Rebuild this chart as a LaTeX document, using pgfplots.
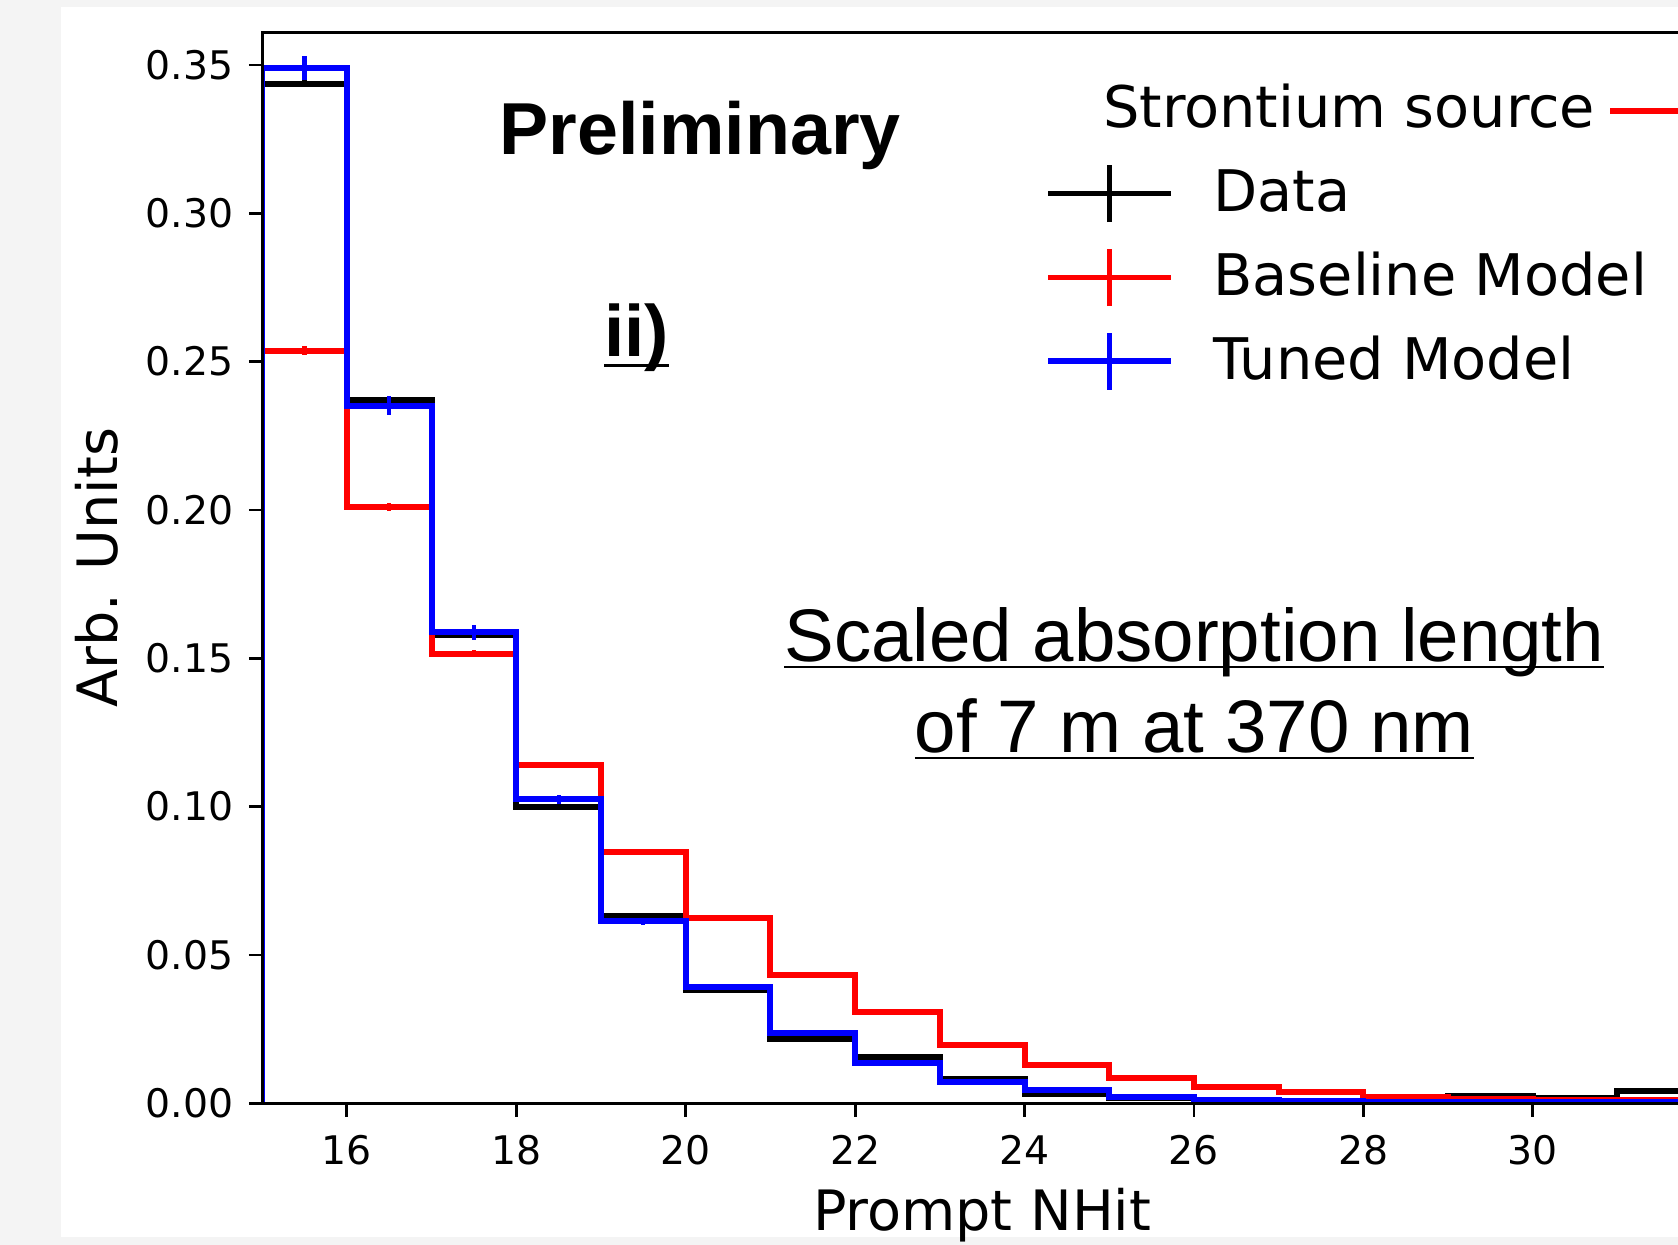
\documentclass[border=0pt]{standalone}
\usepackage{pgfplots}
\usepackage{pgfplotstable}
\pgfplotsset{compat=1.18}
\usepackage{fontspec}
\setmainfont{DejaVu Sans}
\newfontfamily\arialfont{Liberation Sans}
\definecolor{bggray}{RGB}{244,244,244}
\definecolor{pblue}{RGB}{0,0,255}
\definecolor{pred}{RGB}{255,0,0}
\newcommand\myul[3]{\setbox0=\hbox{#3}\rlap{\rule[#1]{\wd0}{#2}}\box0}

\pgfplotstableread{
x data base tuned
15 0      0      0
15 0.3437 0.2536 0.3490
16 0.2372 0.2009 0.2351
17 0.1580 0.1515 0.1587
18 0.0999 0.1140 0.1025
19 0.0631 0.0848 0.0613
20 0.0382 0.0624 0.0393
21 0.0216 0.0433 0.0238
22 0.0157 0.0307 0.0137
23 0.0083 0.0198 0.0072
24 0.0030 0.0128 0.0046
25 0.0017 0.0085 0.0021
26 0.0010 0.0055 0.0012
27 0.0006 0.0038 0.0008
28 0.0006 0.0021 0.0006
29 0.0025 0.0016 0.0005
30 0.0018 0.0012 0.0004
31 0.0041 0.0010 0.0004
32 0.0041 0.0010 0.0004
32 0      0      0
}\hist

\pgfplotstableread{
xc data edata base ebase tuned etuned
15.5 0.3437 0.0012 0.2536 0.0015 0.3490 0.0040
16.5 0.2372 0.0010 0.2009 0.0013 0.2351 0.0032
17.5 0.1580 0.0009 0.1515 0.0012 0.1587 0.0025
18.5 0.0999 0.0008 0.1140 0.0010 0.1025 0.0015
19.5 0.0631 0.0007 0.0848 0.0009 0.0613 0.0012
20.5 0.0382 0.0006 0.0624 0.0008 0.0393 0.0010
21.5 0.0216 0.0005 0.0433 0.0007 0.0238 0.0008
22.5 0.0157 0.0005 0.0307 0.0006 0.0137 0.0006
23.5 0.0083 0.0004 0.0198 0.0005 0.0072 0.0005
24.5 0.0030 0.0004 0.0128 0.0004 0.0046 0.0004
25.5 0.0017 0.0004 0.0085 0.0004 0.0021 0.0004
26.5 0.0010 0.0004 0.0055 0.0004 0.0012 0.0004
27.5 0.0006 0.0004 0.0038 0.0004 0.0008 0.0004
28.5 0.0006 0.0004 0.0021 0.0004 0.0006 0.0004
29.5 0.0025 0.0004 0.0016 0.0004 0.0005 0.0004
30.5 0.0018 0.0004 0.0012 0.0004 0.0004 0.0004
31.5 0.0041 0.0004 0.0010 0.0004 0.0004 0.0004
}\errs

\begin{document}
\begin{tikzpicture}
\fill[bggray] (-61.25pt,-33pt) rectangle (330.75pt,257.75pt);
\fill[white] (-47pt,-31.25pt) rectangle (330.75pt,256.2pt);
\begin{scope}
\clip (-61.25pt,-33pt) rectangle (330.75pt,257.75pt);
\begin{axis}[
  scale only axis, width=336.4pt, height=250.2pt,
  xmin=15, xmax=32, ymin=0, ymax=0.361,
  axis on top,
  axis line style={line width=0.65pt, black},
  every tick/.style={black, line width=0.65pt},
  major tick length=3.1pt,
  tick align=outside,
  xtick pos=left, ytick pos=left,
  xtick={16,18,20,22,24,26,28,30},
  ytick={0,0.05,0.1,0.15,0.2,0.25,0.3,0.35},
  minor tick num=0,
  scaled y ticks=false,
  tick label style={font=\fontsize{9.2}{11}\selectfont},
  /pgf/number format/assume math mode=true,
  yticklabel style={/pgf/number format/fixed, /pgf/number format/fixed zerofill, /pgf/number format/precision=2, inner sep=0pt, xshift=-3.45pt},
  xticklabel style={inner sep=0pt, yshift=-4.15pt},
  xlabel={Prompt NHit}, ylabel={Arb. Units},
  every axis x label/.style={at={(axis description cs:0.5,-0.1189)}, anchor=base, font=\fontsize{13}{15}\selectfont},
  every axis y label/.style={at={(axis description cs:-0.10077,0.5)}, rotate=90, anchor=base, font=\fontsize{13}{15}\selectfont},
  legend image code/.code={\draw[#1,line width=1.3pt] (0pt,0pt) -- (28.6pt,0pt) (14.3pt,-6.7pt) -- (14.3pt,6.7pt);},
  legend style={draw=none, fill=none, inner sep=0pt, outer sep=0pt, at={(0.5440,0.8789)}, anchor=north west, row sep=4.9pt, column sep=9.3pt, font=\fontsize{13.4}{16}\selectfont, nodes={inner sep=0pt}},
  legend cell align=left,
  errs/.style={only marks, mark=text, text mark={}, forget plot, error bars/.cd, y dir=both, y explicit, error mark=none, error bar style={line width=1.0pt}},
]
\addplot[black, line width=1.4pt, const plot mark left, forget plot] table[x=x, y=data]{\hist};
\addplot[black, errs] table[x=xc, y=data, y error=edata]{\errs};
\addplot[pred, line width=1.4pt, const plot mark left, forget plot] table[x=x, y=base]{\hist};
\addplot[pred, errs] table[x=xc, y=base, y error=ebase]{\errs};
\addplot[pblue, line width=1.4pt, const plot mark left, forget plot] table[x=x, y=tuned]{\hist};
\addplot[pblue, errs] table[x=xc, y=tuned, y error=etuned]{\errs};
\addlegendimage{black}\addlegendentry{Data}
\addlegendimage{pred}\addlegendentry{Baseline Model}
\addlegendimage{pblue}\addlegendentry{Tuned Model}
\end{axis}
\node[anchor=base west, inner sep=0pt, font=\arialfont\bfseries\fontsize{17.2}{20}\selectfont] at (55.3pt,221.55pt) {Preliminary};
\node[anchor=base west, inner sep=0pt, font=\arialfont\bfseries\fontsize{17}{20}\selectfont] at (79.7pt,174.45pt) {\myul{-2.35pt}{0.7pt}{ii)}};
\node[anchor=base, inner sep=0pt, font=\arialfont\fontsize{17.4}{20}\selectfont] at (217.75pt,103.2pt) {\myul{-1.6pt}{0.6pt}{Scaled absorption length}};
\node[anchor=base, inner sep=0pt, font=\arialfont\fontsize{17.4}{20}\selectfont] at (217.75pt,82.0pt) {\myul{-1.6pt}{0.6pt}{of 7 m at 370 nm}};
\node[anchor=base west, inner sep=0pt, font=\fontsize{13.4}{16}\selectfont] at (196.25pt,227.95pt) {Strontium source};
\draw[pred, line width=1.35pt] (314.9pt,231.8pt) -- (345pt,231.8pt);
\end{scope}
\pgfresetboundingbox
\path (-61.25pt,-33pt) rectangle (330.75pt,257.75pt);
\end{tikzpicture}
\end{document}
